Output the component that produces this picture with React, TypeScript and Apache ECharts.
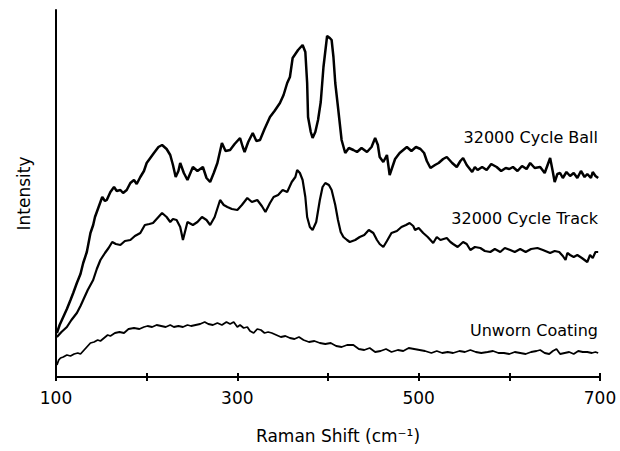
import React, { useEffect, useRef } from "react";
import * as echarts from "echarts";

// Raman shift (cm-1) / intensity (a.u.)
const ballX = [101, 104, 108, 112, 116, 119, 123, 127, 130, 134, 138, 141, 143, 147, 151, 154, 156, 160, 164, 167, 171, 174, 178, 182, 186, 189, 193, 197, 200, 204, 208, 213, 217, 222, 226, 229, 232, 235, 237, 241, 245, 251, 256, 262, 266, 270, 274, 278, 283, 287, 292, 297, 303, 306, 308, 312, 317, 321, 325, 330, 336, 341, 347, 351, 355, 358, 361, 364, 367, 370, 372, 375, 377, 378, 381, 383, 386, 389, 392, 395, 399, 402, 404, 406, 408, 411, 415, 419, 423, 428, 432, 437, 443, 448, 452, 455, 457, 461, 465, 468, 471, 474, 479, 483, 487, 492, 497, 502, 506, 509, 513, 518, 522, 527, 531, 537, 542, 546, 549, 553, 559, 562, 565, 570, 575, 580, 586, 591, 596, 600, 604, 609, 614, 619, 623, 628, 634, 639, 645, 648, 650, 653, 656, 659, 663, 667, 671, 675, 679, 683, 686, 690, 692, 695, 698];
const ballY = [44, 52, 60, 68, 77, 84, 94, 103, 114, 125, 144, 152, 160, 170, 180, 176, 177, 185, 190, 186, 187, 184, 187, 194, 197, 193, 200, 206, 214, 219, 224, 230, 232, 228, 222, 212, 200, 206, 214, 204, 197, 210, 206, 210, 199, 195, 204, 214, 234, 226, 227, 233, 239, 230, 225, 235, 244, 236, 237, 248, 260, 266, 274, 282, 294, 300, 319, 323, 327, 330, 332, 325, 294, 260, 245, 239, 245, 257, 275, 310, 341, 339, 337, 320, 294, 270, 237, 224, 229, 227, 225, 229, 225, 230, 239, 232, 220, 215, 222, 202, 210, 218, 224, 227, 230, 226, 230, 228, 224, 216, 209, 212, 214, 218, 220, 214, 210, 216, 219, 212, 205, 210, 207, 210, 207, 213, 210, 206, 209, 208, 210, 206, 211, 208, 214, 209, 210, 204, 219, 205, 195, 203, 204, 199, 205, 201, 204, 199, 206, 200, 203, 199, 205, 201, 199];

const trackX = [101, 106, 112, 117, 123, 127, 130, 135, 141, 145, 149, 154, 158, 162, 166, 171, 176, 182, 187, 193, 198, 203, 207, 212, 217, 222, 226, 229, 233, 237, 240, 245, 251, 256, 261, 266, 270, 275, 281, 285, 289, 294, 300, 305, 311, 316, 322, 327, 331, 336, 340, 345, 350, 355, 360, 364, 366, 369, 372, 375, 377, 380, 383, 387, 391, 394, 397, 401, 404, 408, 411, 414, 417, 421, 424, 430, 435, 440, 445, 450, 454, 457, 461, 465, 470, 476, 481, 486, 490, 494, 496, 500, 505, 510, 516, 520, 524, 531, 535, 538, 543, 549, 553, 557, 562, 568, 573, 579, 584, 590, 595, 601, 606, 612, 618, 624, 631, 637, 645, 650, 655, 659, 662, 664, 667, 671, 675, 680, 686, 689, 692, 695, 698];
const trackY = [40, 45, 50, 57, 64, 71, 77, 87, 97, 108, 117, 124, 129, 135, 133, 132, 136, 137, 141, 144, 152, 153, 154, 159, 164, 160, 155, 158, 157, 150, 137, 155, 152, 155, 160, 157, 152, 160, 177, 172, 170, 168, 167, 172, 179, 175, 177, 171, 165, 174, 180, 182, 187, 185, 195, 200, 207, 204, 197, 180, 160, 150, 147, 155, 177, 190, 194, 192, 187, 172, 157, 145, 140, 137, 135, 137, 140, 142, 147, 144, 137, 133, 130, 136, 144, 146, 150, 152, 154, 151, 147, 149, 144, 140, 134, 140, 137, 139, 135, 133, 130, 135, 133, 127, 130, 129, 126, 125, 128, 125, 129, 127, 125, 128, 125, 128, 129, 127, 124, 126, 125, 121, 117, 124, 122, 120, 122, 119, 115, 122, 119, 125, 125];

const unwornX = [101, 103, 105, 108, 112, 116, 120, 124, 127, 131, 134, 138, 142, 146, 149, 153, 157, 160, 165, 170, 175, 180, 186, 192, 197, 201, 206, 211, 216, 221, 226, 230, 235, 240, 245, 249, 254, 259, 264, 268, 273, 278, 283, 288, 292, 296, 300, 303, 307, 311, 314, 318, 322, 326, 330, 334, 338, 343, 348, 353, 358, 363, 368, 373, 379, 385, 391, 397, 403, 409, 415, 421, 428, 434, 440, 446, 452, 458, 464, 470, 477, 483, 489, 495, 501, 507, 514, 520, 526, 532, 538, 545, 551, 557, 563, 569, 576, 582, 588, 594, 600, 606, 612, 618, 624, 630, 634, 639, 644, 648, 652, 656, 661, 666, 671, 676, 681, 686, 691, 695, 698];
const unwornY = [12, 17, 19, 20, 22, 21, 23, 24, 23, 27, 30, 34, 35, 37, 36, 39, 42, 41, 44, 45, 44, 48, 49, 48, 50, 51, 50, 52, 51, 50, 52, 50, 51, 50, 52, 51, 52, 53, 55, 53, 52, 54, 52, 55, 53, 55, 50, 52, 49, 50, 46, 44, 48, 47, 44, 45, 44, 42, 40, 41, 39, 38, 40, 37, 35, 36, 34, 33, 34, 31, 30, 32, 32, 28, 27, 29, 25, 26, 28, 25, 27, 26, 29, 28, 27, 26, 24, 26, 24, 25, 24, 26, 25, 27, 25, 24, 25, 26, 24, 24, 23, 25, 24, 23, 25, 26, 27, 24, 23, 26, 28, 23, 24, 25, 23, 26, 25, 25, 24, 25, 24];

const tickLabels = ["100", "300", "500", "700"];
const seriesNames = ["32000 Cycle Ball", "32000 Cycle Track", "Unworn Coating"];

const FONT = "DejaVu Sans";

function pairs(xs: number[], ys: number[]) {
  return xs.map((x, i) => [x, ys[i]]);
}

export default function App() {
  const ref = useRef<HTMLDivElement>(null);
  useEffect(() => {
    if (!ref.current) return;
    const chart = echarts.init(ref.current, undefined, { renderer: "svg" });
    const labelY = [138, 219, 331];
    chart.setOption({
      animation: false,
      backgroundColor: "#ffffff",
      grid: { left: 56, right: 20, top: 10, bottom: 74 },
      xAxis: [
        {
          type: "value",
          min: 100,
          max: 700,
          interval: 100,
          position: "bottom",
          name: "Raman Shift (cm⁻¹)",
          nameLocation: "middle",
          nameGap: 50,
          nameTextStyle: { fontFamily: FONT, fontSize: 17, color: "#000", padding: [0, 0, 0, 20] },
          axisLine: { show: true, lineStyle: { color: "#000", width: 2 } },
          axisTick: { show: true, inside: false, length: 4, lineStyle: { color: "#000", width: 2 } },
          axisLabel: {
            margin: 12,
            fontFamily: FONT,
            fontSize: 17,
            color: "#000",
            formatter: (v: number) => (tickLabels.includes(String(v)) ? String(v) : ""),
          },
          splitLine: { show: false },
        },
        {
          type: "value",
          min: 100,
          max: 700,
          interval: 100,
          position: "bottom",
          axisLine: { show: false },
          axisTick: { show: true, inside: true, length: 4, lineStyle: { color: "#000", width: 2 } },
          axisLabel: { show: false },
          splitLine: { show: false },
        },
      ],
      yAxis: {
        type: "value",
        min: 0,
        max: 367,
        name: "Intensity",
        nameLocation: "middle",
        nameGap: 24,
        nameTextStyle: { fontFamily: FONT, fontSize: 17, color: "#000" },
        axisLine: { show: true, lineStyle: { color: "#000", width: 2 } },
        axisTick: { show: false },
        axisLabel: { show: false },
        splitLine: { show: false },
      },
      series: [
        { name: seriesNames[0], type: "line", xAxisIndex: 0, data: pairs(ballX, ballY), showSymbol: false, symbol: "none", lineStyle: { color: "#000", width: 2.5 } },
        { name: seriesNames[1], type: "line", xAxisIndex: 0, data: pairs(trackX, trackY), showSymbol: false, symbol: "none", lineStyle: { color: "#000", width: 2.2 } },
        { name: seriesNames[2], type: "line", xAxisIndex: 0, data: pairs(unwornX, unwornY), showSymbol: false, symbol: "none", lineStyle: { color: "#000", width: 1.8 } },
      ],
      graphic: seriesNames.map((n, i) => ({
        type: "text",
        right: 22,
        top: labelY[i] - 9,
        style: { text: n, fontFamily: FONT, fontSize: 16, fill: "#000" },
      })),
    });
    return () => chart.dispose();
  }, []);
  return <div ref={ref} style={{ position: "absolute", left: 0, top: 0, width: 620, height: 451, background: "#fff" }} />;
}
